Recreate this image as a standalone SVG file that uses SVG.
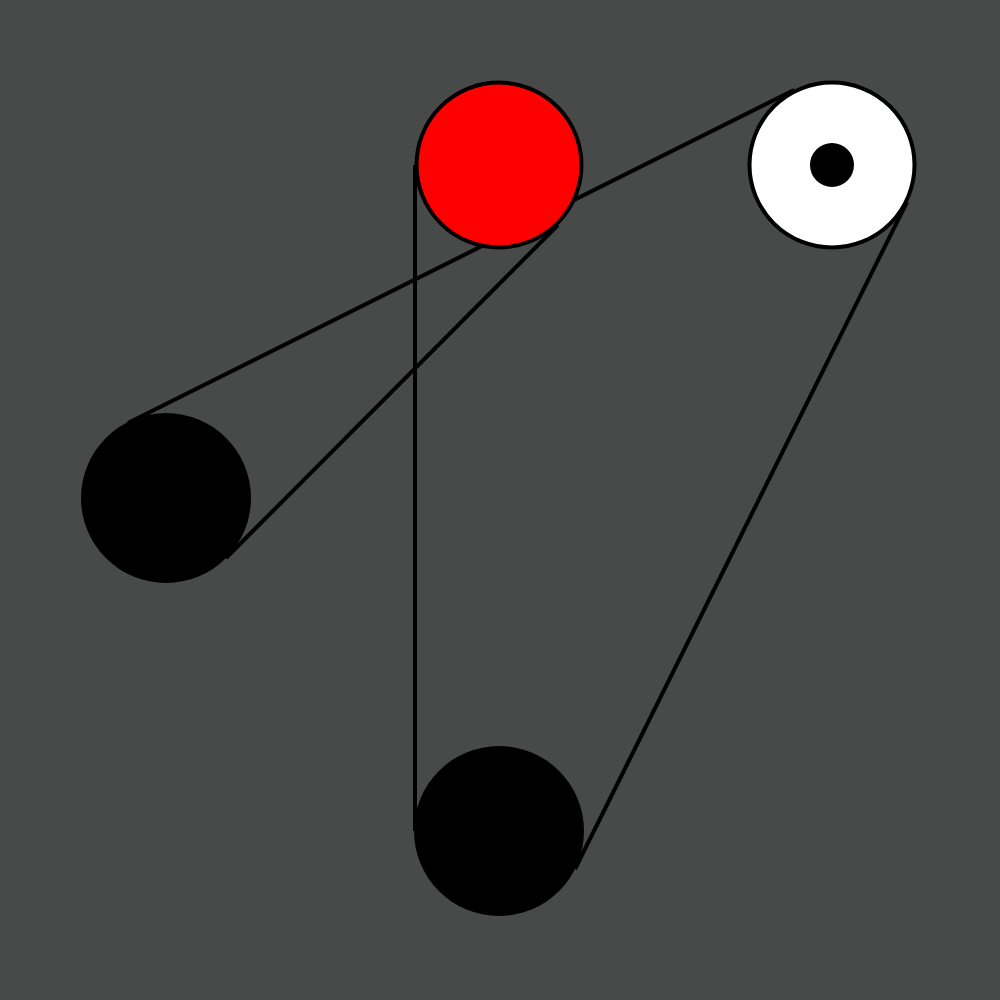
<svg xmlns="http://www.w3.org/2000/svg" width="1000" height="1000" viewBox="0 0 1000 1000">
<style>
.belt{stroke:#000;stroke-width:4;fill:none;stroke-linecap:butt}
.ring{stroke:#000;stroke-width:4}
</style>
<rect width="1000" height="1000" fill="#484949"/>
<g id="connectors">
<line class="belt" x1="415" y1="165" x2="415" y2="831"/>
<line class="belt" x1="907" y1="202" x2="575" y2="869"/>
<line class="belt" x1="794" y1="90" x2="128" y2="423"/>
<line class="belt" x1="226" y1="558" x2="558" y2="225"/>
</g>
<g id="pulley-left"><circle cx="166" cy="498" r="85" fill="#000"/></g>
<g id="pulley-bottom"><circle cx="499" cy="831" r="85" fill="#000"/></g>
<g id="pulley-red"><circle class="ring" cx="499" cy="165" r="82.5" fill="#f00"/></g>
<g id="pulley-white"><circle class="ring" cx="832" cy="165" r="82.5" fill="#fff"/><circle cx="832" cy="165" r="22" fill="#000"/></g>
</svg>
